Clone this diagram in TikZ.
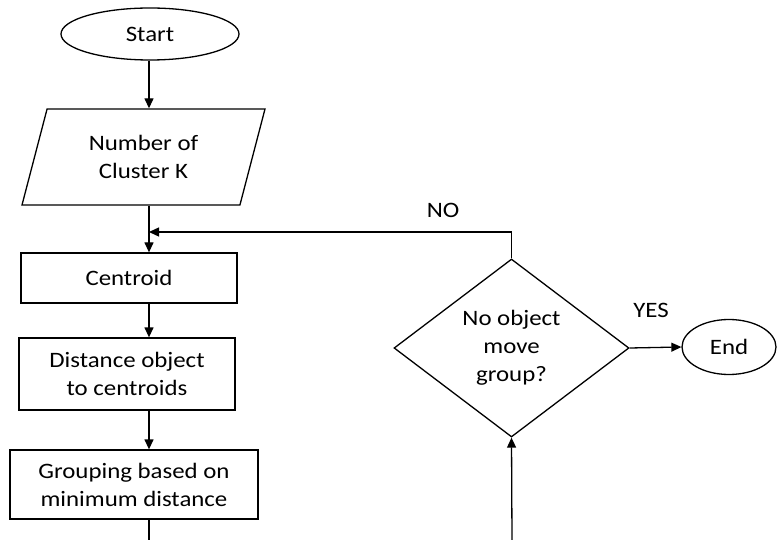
\documentclass[tikz,border=0pt]{standalone}
\usepackage{fontspec}
\setmainfont{Carlito}[FakeStretch=1.13]
\usetikzlibrary{shapes.geometric,arrows.meta}

\tikzset{
    flowline/.style={line width=1.3pt, -{Triangle[length=10pt,width=9pt]}},
    procbox/.style={draw, line width=1.3pt, rectangle, align=center, inner sep=0pt},
    termbox/.style={draw, line width=1.3pt, ellipse, inner sep=0pt},
}

\begin{document}
\begin{tikzpicture}[x=1pt, y=-1pt, font=\fontsize{22}{28}\selectfont]
    \useasboundingbox (0,0) rectangle (782,540);

    % Main column
    \node[termbox, minimum width=178pt, minimum height=52pt] (start) at (150,34) {Start};
    \node[draw, line width=1.3pt, trapezium, trapezium left angle=60, trapezium right angle=120,
          trapezium stretches body, minimum width=243pt, minimum height=96pt, inner sep=0pt,
          align=center] (clusters) at (143.5,157) {Number of\\Cluster K};
    \node[procbox, minimum width=216pt, minimum height=50pt] (centroid) at (129,278) {Centroid};
    \node[procbox, minimum width=216pt, minimum height=72pt] (distance) at (127,374) {Distance object\\to centroids};
    \node[procbox, minimum width=248pt, minimum height=69pt] (grouping) at (134,484.5) {Grouping based on\\minimum distance};

    % Decision and end
    \node[draw, line width=1.3pt, diamond, inner sep=0pt, minimum width=235pt, minimum height=178pt,
          align=center] (moved) at (511.5,348) {No object\\move\\group?};
    \node[termbox, minimum width=94pt, minimum height=55pt] (stop) at (729,347) {End};

    % Labels
    \node (nolabel) at (443,210) {NO};
    \node (yeslabel) at (651,310) {YES};

    % Helper points
    \coordinate (spine) at (149,232);
    \coordinate (gout) at (149,540);
    \coordinate (din) at (512,540);

    % Connectors
    \draw[flowline] (start.south -| spine) -- (clusters.north -| spine);
    \draw[flowline] (clusters.south -| spine) -- (centroid.north -| spine);
    \draw[flowline] (centroid.south -| spine) -- (distance.north -| spine);
    \draw[flowline] (distance.south -| spine) -- (grouping.north -| spine);
    \draw[line width=1.3pt] (grouping.south -| spine) -- (gout);
    \draw[flowline] (din) -- (moved.south);
    \draw[flowline] (moved.north) |- (spine);
    \draw[flowline] (moved.east) -- (stop.west);
\end{tikzpicture}
\end{document}
